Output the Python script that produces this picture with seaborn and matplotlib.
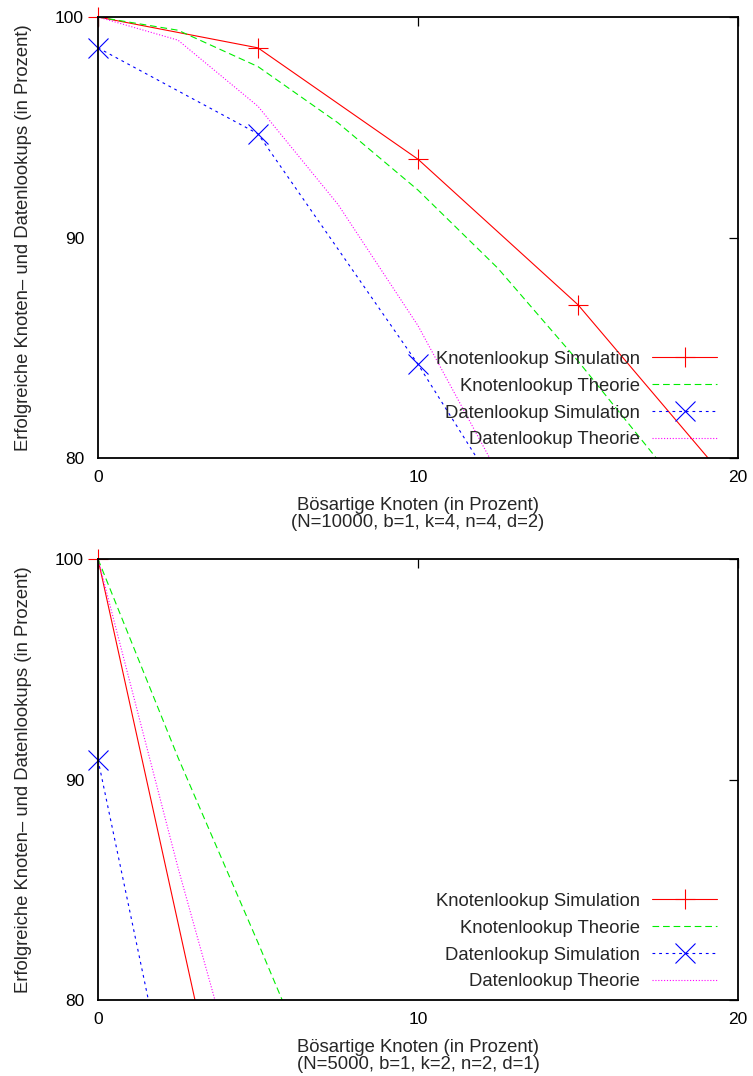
import numpy as np
import pandas as pd
import matplotlib
matplotlib.use("Agg")
import matplotlib.pyplot as plt
import seaborn as sns
from matplotlib.lines import Line2D

# ---------------- data ----------------
# top panel (N=10000, b=1, k=4, n=4, d=2)
top_ks_x = [0, 5, 10, 15, 20]
top_ks_y = [100.0, 98.6, 93.55, 86.95, 78.4]
top_kt_x = [0, 2.5, 5, 7.5, 10, 12.5, 15, 17.5]
top_kt_y = [100.0, 99.4, 97.75, 95.2, 92.15, 88.6, 84.4, 79.9]
top_ds_x = [0, 5, 10, 15]
top_ds_y = [98.6, 94.7, 84.25, 72.7]
top_dt_x = [0, 2.5, 5, 7.5, 10, 12.5]
top_dt_y = [100.0, 98.95, 95.95, 91.5, 86.0, 79.3]

# bottom panel (N=5000, b=1, k=2, n=2, d=1)
bot_ks_x = [0, 5]
bot_ks_y = [100.0, 67.0]
bot_kt_x = [0, 2.5, 5, 7.5]
bot_kt_y = [100.0, 91.0, 82.6, 74.0]
bot_ds_x = [0, 5]
bot_ds_y = [90.9, 56.3]
bot_dt_x = [0, 2.5, 5]
bot_dt_y = [100.0, 86.0, 73.0]

labels = ["Knotenlookup Simulation", "Knotenlookup Theorie",
          "Datenlookup Simulation", "Datenlookup Theorie"]
xlabels = ["Bösartige Knoten (in Prozent)\n(N=10000, b=1, k=4, n=4, d=2)",
           "Bösartige Knoten (in Prozent)\n(N=5000, b=1, k=2, n=2, d=1)"]
ylabel = "Erfolgreiche Knoten– und Datenlookups (in Prozent)"
xticks = [0, 10, 20]
yticks = [80, 90, 100]

# ---------------- style ----------------
sns.set_theme(style="white")
plt.rcParams['font.family'] = ['Liberation Sans', 'DejaVu Sans']

colors = ["#ff0000", "#00ee00", "#0000ff", "#ff00ff"]
lw = 0.8
styles = ["-", (0, (6, 3.5)), (0, (2.5, 3.5)), (0, (1, 1.6))]
markers = ["+", None, "x", None]

fig = plt.figure(figsize=(7.53, 10.76), dpi=100)
ax_top = fig.add_axes([98/753, 1-458/1076, 640/753, 441/1076])
ax_bot = fig.add_axes([98/753, 1-1000/1076, 640/753, 441/1076])

panels = [
    (ax_top, [(top_ks_x, top_ks_y), (top_kt_x, top_kt_y), (top_ds_x, top_ds_y), (top_dt_x, top_dt_y)], xlabels[0]),
    (ax_bot, [(bot_ks_x, bot_ks_y), (bot_kt_x, bot_kt_y), (bot_ds_x, bot_ds_y), (bot_dt_x, bot_dt_y)], xlabels[1]),
]

for ax, series, xl in panels:
    for i, (xs, ys) in enumerate(series):
        df = pd.DataFrame({"x": xs, "y": ys})
        sns.lineplot(data=df, x="x", y="y", ax=ax, color=colors[i],
                     linestyle=styles[i], linewidth=lw, legend=False)
        if markers[i] is not None:
            vis = df[(df["y"] >= 80) & (df["y"] <= 100)]
            ax.plot(vis["x"], vis["y"], linestyle="none", marker=markers[i],
                    markersize=14, markeredgewidth=0.8, color=colors[i],
                    markeredgecolor=colors[i], clip_on=False)
    ax.set_xlim(0, 20)
    ax.set_ylim(80, 100)
    ax.set_xticks(xticks)
    ax.set_yticks(yticks)
    ax.tick_params(direction="in", top=True, right=True, length=6.5, width=0.9,
                   labelsize=12.5, pad=8.5, color="black", labelcolor="black")
    ax.tick_params(axis="y", pad=10)
    for s in ax.spines.values():
        s.set_linewidth(1.3)
        s.set_color("black")
    ax.set_xlabel(xl, fontsize=13.3, linespacing=0.95)
    ax.set_ylabel(ylabel, fontsize=13.3)
    ax.xaxis.set_label_coords(0.5, -0.089)
    ax.yaxis.set_label_coords(-0.103, 0.5)

    handles = [Line2D([], [], color=colors[i], linestyle=styles[i], linewidth=lw,
                      marker=markers[i], markersize=14, markeredgewidth=0.8,
                      markeredgecolor=colors[i], markerfacecolor=colors[i])
               for i in range(4)]
    ax.legend(handles, labels, loc="lower right", bbox_to_anchor=(0.967, 0.022),
              frameon=False, markerfirst=False, fontsize=13.3, handlelength=3.5,
              handletextpad=0.65, labelspacing=0.53, borderpad=0, borderaxespad=0,
              numpoints=1)

fig.savefig("out.png", dpi=100, facecolor="white")
